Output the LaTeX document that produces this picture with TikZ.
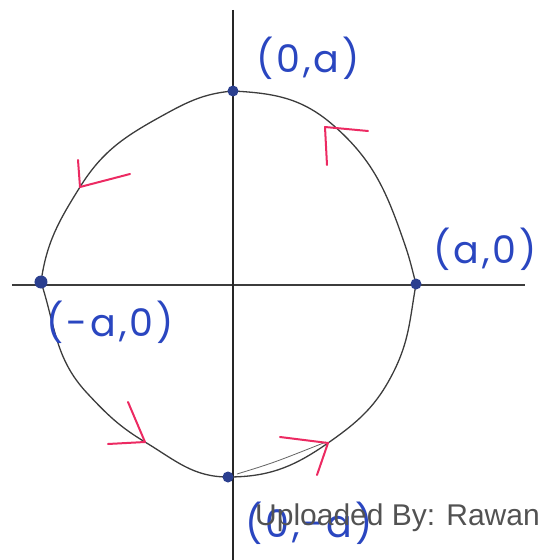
\documentclass[tikz,border=0pt]{standalone}
\usepackage{fontspec}
\newfontfamily\handfont{Poppins}[LetterSpace=8]
\newfontfamily\markfont{Liberation Sans}
\usetikzlibrary{positioning}
\definecolor{ink}{HTML}{2A46C0}
\definecolor{dotc}{HTML}{2B3F8F}
\definecolor{pen}{HTML}{EC2A62}
\definecolor{lead}{HTML}{3C3C3C}
\begin{document}
\begin{tikzpicture}[x=1pt,y=1pt,
  dot/.style={circle, fill=dotc, inner sep=0pt, minimum size=11pt},
  lbl/.style={ink, font=\handfont\fontsize{38}{38}\selectfont},
  tick/.style={pen, line width=2pt, line cap=round, line join=round}]
  \useasboundingbox (-233,-275) rectangle (314,285);
  %% axes
  \coordinate (xl) at (-221,0);
  \coordinate (xr) at (292,0);
  \coordinate (yt) at (0,275);
  \coordinate (yb) at (0,-275);
  \draw[lead, line width=1.6pt] (xl) -- (xr);
  \draw[black!85, line width=1.8pt] (yt) -- (yb);
  %% points on the curve
  \coordinate (top) at (0,194);
  \coordinate (rgt) at (183,1);
  \coordinate (bot) at (-5,-192);
  \coordinate (lft) at (-192,3);
  %% the closed curve, traced by hand
  \draw[lead, line width=1.3pt]
    (top) to[out=-3,in=139] (100,160) to[out=-41,in=109] (172,40)
          to[out=-71,in=105] (rgt)
    (rgt) to[out=-100,in=63] (160,-88) to[out=-117,in=35] (95,-158)
          to[out=-145,in=0] (bot)
    (bot) to[out=180,in=-31] (-88,-157) to[out=149,in=-47] (-146,-108)
          to[out=133,in=-72] (lft)
    (lft) to[out=82,in=-122] (-153,98) to[out=58,in=-151] (-73,168)
          to[out=29,in=-175] (top);
  %% second stroke, lower right
  \draw[lead!80, line width=0.8pt] (4,-189) .. controls (40,-178) .. (93,-157);
  %% direction marks
  \draw[tick] (94,120) -- (92,158) -- (135,154);
  \draw[tick] (-155,125) -- (-153,98) -- (-103,111);
  \draw[tick] (-105,-117) -- (-88,-157) -- (-125,-159);
  \draw[tick] (47,-152) -- (95,-158) -- (84,-190);
  %% dots
  \node[dot] (ptop) at (top) {};
  \node[dot] (prgt) at (rgt) {};
  \node[dot, minimum size=13pt] (plft) at (lft) {};
  \node[dot] (pbot) at (bot) {};
  %% labels
  \node[lbl] (ltop) at (75,227) {(0,a)};
  \node[lbl] (lrgt) at (252,36) {(a,0)};
  \node[lbl] (llft) at (-123,-37) {(-a,0)};
  \node[lbl] (lbot) at (76,-238) {(0,-a)};
  %% watermark
  \node[anchor=base west, inner sep=0pt, text=black!68,
        font=\markfont\fontsize{30}{30}\selectfont] (wm) at (22,-240)
        {Uploaded By: Rawan};
\end{tikzpicture}
\end{document}
